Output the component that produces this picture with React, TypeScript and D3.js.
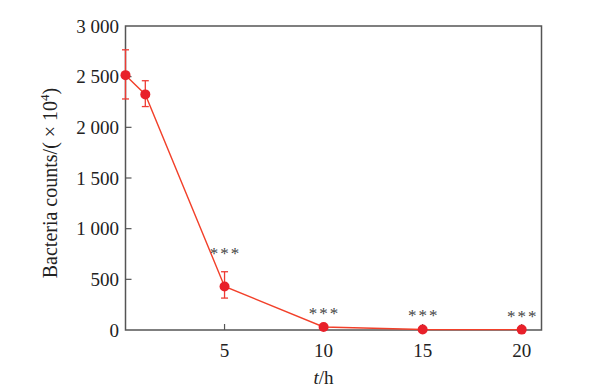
import * as d3 from 'd3';

const times = [0, 1, 5, 10, 15, 20];
const counts = [2515, 2325, 430, 30, 5, 4];
const errLow = [2280, 2205, 315, null, null, null];
const errHigh = [2765, 2460, 575, null, null, null];
const starTimes = [5, 10, 15, 20];
const starOffsets = [27, 7.5, 8, 8];
const yTicks = [0, 500, 1000, 1500, 2000, 2500, 3000];
const xTicks = [5, 10, 15, 20];

const W = 593;
const H = 389;
const m = { left: 125.5, top: 26, right: 51.5, bottom: 59 };

const fmt = (v: number) => (v >= 1000 ? d3.format(',')(v).replace(',', ' ') : String(v));

export default function App() {
  const x = d3.scaleLinear().domain([0, 21]).range([m.left, W - m.right]);
  const y = d3.scaleLinear().domain([0, 3000]).range([H - m.bottom, m.top]);
  const line = d3.line<number>().x((_, i) => x(times[i])).y(d => y(d));
  const font = '"Liberation Serif", "Times New Roman", serif';
  const axisCol = '#555';

  return (
    <svg width={W} height={H} style={{ position: 'absolute', left: 0, top: 0 }} fontFamily={font}>
      <rect x={x(0)} y={y(3000)} width={x(21) - x(0)} height={y(0) - y(3000)} fill="none" stroke={axisCol} strokeWidth={1.5} />
      {yTicks.map(t => (
        <g key={t}>
          {t > 0 && t < 3000 && <line x1={x(0)} x2={x(0) + 6} y1={y(t)} y2={y(t)} stroke={axisCol} strokeWidth={1.2} />}
          <text x={119} y={y(t)} dy="0.35em" textAnchor="end" fontSize={19} fill="#222" style={{ whiteSpace: 'pre' }}>{fmt(t)}</text>
        </g>
      ))}
      {xTicks.map(t => (
        <g key={t}>
          <line x1={x(t)} x2={x(t)} y1={y(0)} y2={y(0) - 6} stroke={axisCol} strokeWidth={1.2} />
          <text x={x(t)} y={350} dy="0.35em" textAnchor="middle" fontSize={19} fill="#222">{t}</text>
        </g>
      ))}
      <text transform={`translate(57,183) rotate(-90)`} textAnchor="middle" fontSize={20} fill="#222" style={{ whiteSpace: 'pre' }}>
        Bacteria counts/( × 10<tspan dy="-8" fontSize={13}>4</tspan><tspan dy="8">)</tspan>
      </text>
      <text x={x(10)} y={377} dy="0.35em" textAnchor="middle" fontSize={19} fill="#222">
        <tspan fontStyle="italic">t</tspan>/h
      </text>
      <path d={line(counts) ?? ''} fill="none" stroke="#f2402a" strokeWidth={1.4} />
      {times.map((t, i) =>
        errLow[i] != null ? (
          <g key={'e' + t} stroke="#ee3b34" strokeWidth={1.3}>
            <line x1={x(t)} x2={x(t)} y1={y(errLow[i] as number)} y2={y(errHigh[i] as number)} />
            <line x1={x(t) - 3.5} x2={x(t) + 3.5} y1={y(errLow[i] as number)} y2={y(errLow[i] as number)} />
            <line x1={x(t) - 3.5} x2={x(t) + 3.5} y1={y(errHigh[i] as number)} y2={y(errHigh[i] as number)} />
          </g>
        ) : null
      )}
      {times.map((t, i) => (
        <circle key={'p' + t} cx={x(t)} cy={y(counts[i])} r={5} fill="#e8202a" />
      ))}
      {starTimes.map((t, i) => (
        <text key={'s' + t} x={x(t) + 1} y={y(counts[times.indexOf(t)]) - starOffsets[i]} textAnchor="middle" fontSize={17} fill="#444" letterSpacing={2}>***</text>
      ))}
    </svg>
  );
}
